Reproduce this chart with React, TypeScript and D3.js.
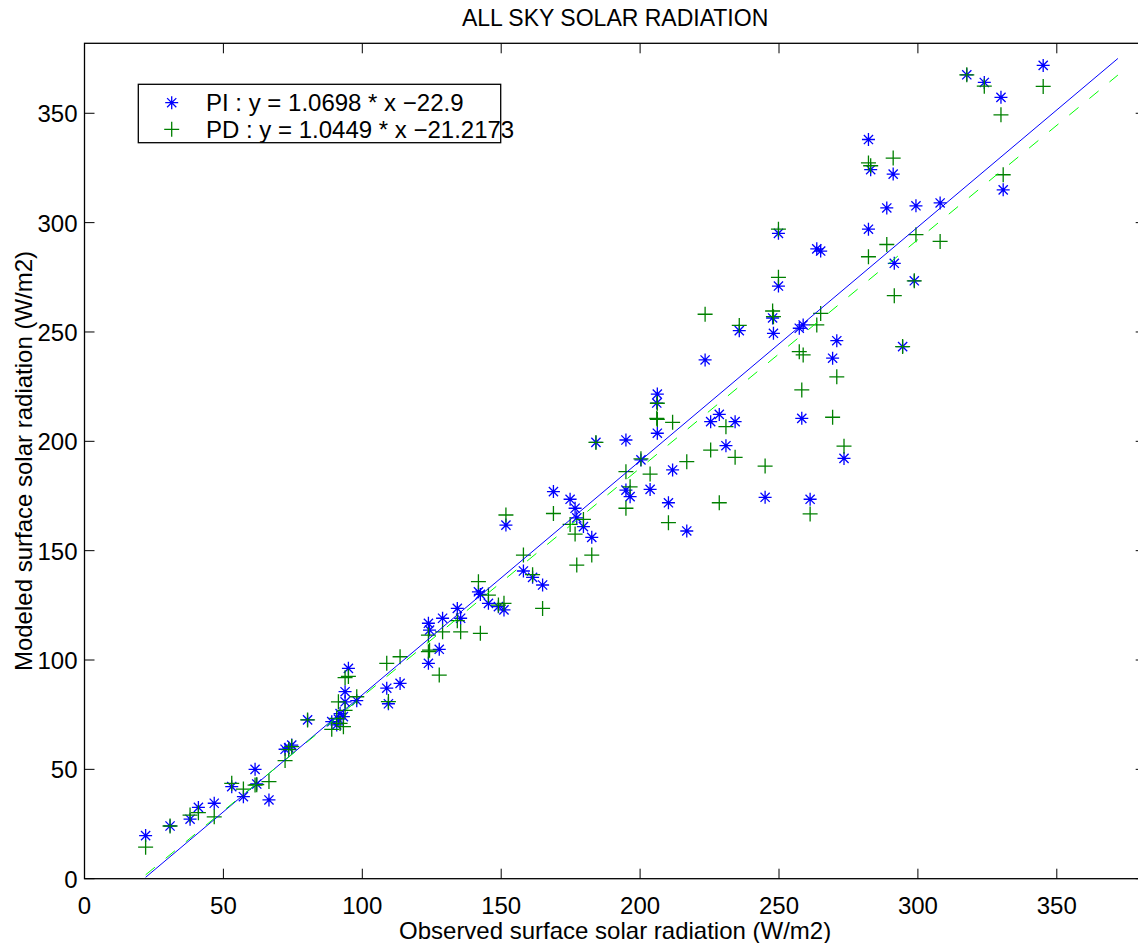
import React from 'react';
import * as d3 from 'd3';

const observed = [
  22.0, 30.8, 38.0, 41.0, 46.7, 53.0, 57.2, 61.4, 62.0, 66.4,
  72.2, 74.6, 73.5, 80.3, 89.0, 90.8, 93.8, 95.0, 93.8, 93.2,
  92.0, 98.0, 91.4, 108.8, 109.4, 113.6, 123.8, 127.7, 123.8, 124.2,
  128.9, 134.2, 135.4, 141.8, 142.5, 145.4, 149.0, 151.0, 158.0, 161.3,
  164.9, 151.7, 168.8, 174.8, 176.6, 179.6, 182.6, 177.2, 184.1, 194.9,
  200.3, 203.6, 194.9, 196.4, 206.2, 206.0, 206.2, 211.7, 216.8, 210.2,
  225.4, 228.5, 230.9, 234.2, 245.0, 223.4, 235.7, 247.7, 248.0, 249.8,
  249.8, 257.3, 258.7, 258.2, 263.6, 265.0, 270.8, 269.3, 261.2, 273.4,
  282.2, 282.2, 283.0, 291.1, 288.8, 291.5, 298.7, 294.5, 299.3, 308.0,
  317.6, 323.9, 329.9, 345.1, 330.7,
];
const modeledPI = [
  19.7, 24.1, 27.2, 32.6, 34.5, 42.1, 37.5, 50.0, 43.3, 36.0,
  59.2, 61.1, 59.8, 72.6, 71.8, 70.3, 85.5, 96.2, 80.9, 74.1,
  75.5, 81.4, 73.0, 87.1, 80.0, 89.3, 98.5, 104.9, 116.8, 113.7,
  119.1, 123.6, 119.1, 131.2, 130.0, 125.9, 124.4, 122.9, 140.7, 137.8,
  134.3, 161.7, 177.0, 173.5, 169.4, 161.0, 156.1, 165.0, 199.5, 200.6,
  191.5, 178.0, 177.7, 174.7, 221.6, 217.5, 203.7, 186.9, 159.0, 171.9,
  209.0, 212.3, 198.0, 209.0, 174.4, 237.2, 250.6, 256.4, 249.4, 295.1,
  271.0, 251.7, 253.2, 210.5, 288.0, 287.0, 246.0, 238.0, 173.5, 192.2,
  297.0, 338.0, 324.2, 322.2, 306.7, 281.4, 273.4, 243.3, 307.7, 309.0,
  367.6, 364.1, 357.3, 371.9, 315.0,
];
const modeledPD = [
  14.4, 24.1, 29.1, 30.2, 28.3, 43.6, 41.0, 42.8, 43.0, 44.4,
  54.0, 60.4, 59.0, 72.6, 68.3, 73.3, 91.9, 92.5, 77.0, 69.5,
  71.0, 83.2, 80.9, 98.5, 81.0, 101.5, 103.8, 93.1, 111.4, 104.5,
  112.9, 118.0, 112.9, 135.8, 112.2, 129.7, 125.1, 125.9, 148.0, 139.0,
  123.6, 166.3, 167.0, 162.0, 157.6, 164.3, 148.0, 143.4, 199.5, 186.1,
  192.0, 185.0, 169.4, 179.2, 217.4, 210.5, 210.0, 208.7, 190.7, 162.8,
  196.0, 171.9, 206.7, 192.7, 188.7, 258.1, 253.0, 259.6, 257.0, 297.0,
  275.0, 241.0, 239.5, 223.5, 253.2, 258.5, 229.5, 211.0, 166.8, 197.8,
  284.4, 327.3, 326.0, 329.5, 290.0, 266.6, 273.4, 243.3, 294.5, 291.4,
  367.6, 362.4, 349.3, 362.3, 321.9,
];

const xTicks = [0, 50, 100, 150, 200, 250, 300, 350];
const yTicks = [0, 50, 100, 150, 200, 250, 300, 350];
const axisMax = 382;

// regression lines
const fitPI = { slope: 1.0698, intercept: -22.9 };
const fitPD = { slope: 1.0449, intercept: -21.2173 };
const fitRange = [22, 372];

const legendLabels = ['PI : y = 1.0698 * x \u221222.9', 'PD : y = 1.0449 * x \u221221.2173'];

const W = 1138;
const H = 943;
const left = 84.5, right = 1145.7, top = 43.3, bottom = 878.7;
const font = '"Liberation Sans", Arial, Helvetica, sans-serif';
const BLUE = '#0000ff';
const GREEN = '#008000';
const LIME = '#00ff00';

const star = 'M-6.5,0H6.5M0,-6.5V6.5M-4.6,-4.6L4.6,4.6M-4.6,4.6L4.6,-4.6';
const plus = 'M-7.5,0H7.5M0,-7.5V7.5';

export default function App() {
  const x = d3.scaleLinear().domain([0, axisMax]).range([left, right]);
  const y = d3.scaleLinear().domain([0, axisMax]).range([bottom, top]);

  const fitPath = (f: { slope: number; intercept: number }) =>
    d3.line<number>().x((d) => x(d)).y((d) => y(f.slope * d + f.intercept))(fitRange);

  return (
    <svg
      width={W}
      height={H}
      style={{ position: 'absolute', left: 0, top: 0, background: '#fff' }}
      fontFamily={font}
    >
      <defs>
        <clipPath id="plot-clip">
          <rect x={left} y={top} width={right - left} height={bottom - top} />
        </clipPath>
      </defs>
      <rect width={W} height={H} fill="#fff" />

      {/* markers */}
      <g stroke={BLUE} strokeWidth={1.3} fill="none">
        {observed.map((d, i) => (
          <path key={'pi' + i} d={star} transform={`translate(${x(d)},${y(modeledPI[i])})`} />
        ))}
      </g>
      <g stroke={GREEN} strokeWidth={1.3} fill="none">
        {observed.map((d, i) => (
          <path key={'pd' + i} d={plus} transform={`translate(${x(d)},${y(modeledPD[i])})`} />
        ))}
      </g>

      {/* fitted lines */}
      <g clipPath="url(#plot-clip)" fill="none">
        <path d={fitPath(fitPI) || ''} stroke={BLUE} strokeWidth={1} />
        <path d={fitPath(fitPD) || ''} stroke={LIME} strokeWidth={1} strokeDasharray="12,14" />
      </g>

      {/* axes box + ticks */}
      <rect x={left} y={top} width={right - left} height={bottom - top} fill="none" stroke="#000" strokeWidth={1.3} />
      <g stroke="#000" strokeWidth={1}>
        {xTicks.map((t) => (
          <g key={'xt' + t}>
            <line x1={x(t)} x2={x(t)} y1={bottom} y2={bottom - 10} />
            <line x1={x(t)} x2={x(t)} y1={top} y2={top + 10} />
          </g>
        ))}
        {yTicks.map((t) => (
          <g key={'yt' + t}>
            <line x1={left} x2={left + 10} y1={y(t)} y2={y(t)} />
            <line x1={right} x2={right - 10} y1={y(t)} y2={y(t)} />
          </g>
        ))}
      </g>
      <g fontSize={24} fill="#000">
        {xTicks.map((t) => (
          <text key={'xl' + t} x={x(t)} y={bottom + 35} textAnchor="middle">{t}</text>
        ))}
        {yTicks.map((t) => (
          <text key={'yl' + t} x={left - 7} y={y(t) + 9} textAnchor="end">{t}</text>
        ))}
      </g>

      {/* labels */}
      <text x={(left + right) / 2} y={26} textAnchor="middle" fontSize={23}>ALL SKY SOLAR RADIATION</text>
      <text x={(left + right) / 2} y={939} textAnchor="middle" fontSize={24}>
        Observed surface solar radiation (W/m2)
      </text>
      <text
        transform={`translate(31.5,${(top + bottom) / 2}) rotate(-90)`}
        textAnchor="middle"
        fontSize={24}
      >
        Modeled surface solar radiation (W/m2)
      </text>

      {/* legend */}
      <g>
        <rect x={138.3} y={84.3} width={362.4} height={58.4} fill="#fff" stroke="#000" strokeWidth={1.3} />
        <path d={star} stroke={BLUE} strokeWidth={1.3} fill="none" transform="translate(171.7,102.7)" />
        <path d={plus} stroke={GREEN} strokeWidth={1.3} fill="none" transform="translate(171.7,129.3)" />
        <text x={206} y={111.2} fontSize={24}>{legendLabels[0]}</text>
        <text x={206} y={137.8} fontSize={24}>{legendLabels[1]}</text>
      </g>
    </svg>
  );
}
